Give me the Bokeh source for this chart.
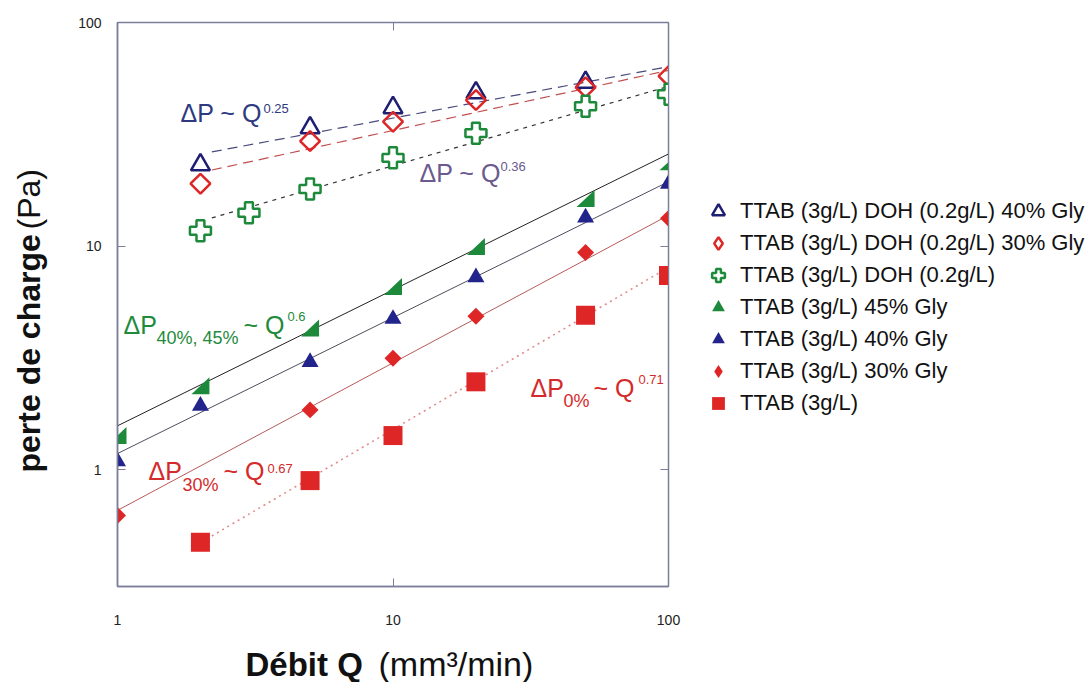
import numpy as np
from bokeh.plotting import figure
from bokeh.layouts import row, column
from bokeh.models import (Label, Legend, LegendItem, FixedTicker, NumeralTickFormatter,
                          LogAxis)
from bokeh.core.enums import CoordinateUnits
from bokeh.embed import file_html
from bokeh.resources import INLINE

# ---------------- data ----------------
q_doh40 = [2, 5, 10, 20, 50]
p_doh40 = [23.1, 33.8, 41.6, 48.5, 54.0]
q_doh30 = [2, 5, 10, 20, 50, 100]
p_doh30 = [19.0, 29.5, 36.0, 45.0, 51.3, 57.5]
q_doh = [2, 3, 5, 10, 20, 50, 100]
p_doh = [11.7, 14.1, 18.0, 24.8, 32.0, 42.2, 47.8]
q_gly45 = [1, 2, 5, 10, 20, 50, 100]
p_gly45 = [1.42, 2.37, 4.3, 6.6, 9.95, 16.3, 23.8]
q_gly40 = [1, 2, 5, 10, 20, 50, 100]
p_gly40 = [1.09, 1.93, 3.03, 4.72, 7.24, 13.4, 19.0]
q_gly30 = [1, 5, 10, 20, 50, 100]
p_gly30 = [0.624, 1.85, 3.15, 4.85, 9.35, 13.3]
q_ttab = [2, 5, 10, 20, 50, 100]
p_ttab = [0.473, 0.893, 1.42, 2.47, 4.9, 7.39]

series_labels = [
    "TTAB (3g/L) DOH (0.2g/L) 40% Gly",
    "TTAB (3g/L) DOH (0.2g/L) 30% Gly",
    "TTAB (3g/L) DOH (0.2g/L)",
    "TTAB (3g/L) 45% Gly",
    "TTAB (3g/L) 40% Gly",
    "TTAB (3g/L) 30% Gly",
    "TTAB (3g/L)",
]

# power-law fits  dP = coef * Q^exp
fit_coef = [22.0, 17.7, 10.1, 1.57, 1.18, 0.657, 0.285]
fit_exp = [0.23, 0.269, 0.355, 0.608, 0.608, 0.66, 0.725]
fit_qmin = [2.2, 2.2, 2.2, 1, 1, 1, 2.2]
fit_qmax = [100, 100, 100, 100, 100, 100, 100]

x_ticks = [1, 10, 100]
y_ticks = [1, 10, 100]

# ---------------- styles ----------------
NAVY = "#1e1e72"
RED = "#de2626"
GREEN = "#1d8a3b"
BLUE = "#23238c"
FRAME = "#7c7f9c"
FONT = "Liberation Sans"
BSHIFT = 0.3   # baseline correction (fraction of font size)

X0, X1, Y0, Y1 = 1, 100, 0.3, 100
W, H = 690, 632
ML, MR, MT, MB = 117, 22, 22, 46
FW, FH = W - ML - MR, H - MT - MB
TOTAL_W, TOTAL_H = 1091, 682

p = figure(width=W, height=H, x_axis_type="log", y_axis_type="log",
           x_range=(X0, X1), y_range=(Y0, Y1), output_backend="svg",
           toolbar_location=None, min_border_left=ML, min_border_right=MR,
           min_border_top=MT, min_border_bottom=MB)
p.background_fill_color = "white"
p.border_fill_color = "white"
p.outline_line_color = FRAME
p.outline_line_width = 1.5
p.grid.visible = False

for ax, ticks, standoff in ((p.xaxis[0], x_ticks, 28), (p.yaxis[0], y_ticks, 16)):
    ax.ticker = FixedTicker(ticks=ticks)
    ax.formatter = NumeralTickFormatter(format="0")
    ax.major_tick_in = 8
    ax.major_tick_out = 0
    ax.minor_tick_line_color = None
    ax.axis_line_color = FRAME
    ax.axis_line_width = 1.5
    ax.major_tick_line_color = FRAME
    ax.major_label_text_font = FONT
    ax.major_label_text_font_size = "14px"
    ax.major_label_text_color = "#222222"
    ax.major_label_standoff = standoff

for side, ticks in (("above", x_ticks), ("right", y_ticks)):
    p.add_layout(LogAxis(ticker=FixedTicker(ticks=ticks), major_label_text_font_size="2px",
                         major_label_text_color=None, major_label_standoff=0,
                         major_tick_in=8, major_tick_out=0, minor_tick_line_color=None,
                         axis_line_color=FRAME, major_tick_line_color=FRAME), side)

# ---------------- fit lines ----------------
fit_styles = [
    dict(line_color="#4a4a7e", line_dash="10 6", line_width=1.2),
    dict(line_color="#c05050", line_dash="10 6", line_width=1.2),
    dict(line_color="#333333", line_dash="4 5", line_width=1.2),
    dict(line_color="#222222", line_width=1.0),
    dict(line_color="#4e4e5e", line_width=1.0),
    dict(line_color="#b85a5a", line_width=1.0),
    dict(line_color="#e08c8c", line_dash="2 4", line_width=1.6),
]
for c, e, a, b, sty in zip(fit_coef, fit_exp, fit_qmin, fit_qmax, fit_styles):
    qq = np.array([a, b], dtype=float)
    p.line(qq, c * qq ** e, **sty)

# ---------------- markers ----------------
open_tri = dict(marker="triangle", size=19, fill_color=None, line_color=NAVY, line_width=2.5)
open_dia = dict(size=14, fill_color=None, line_color=RED, line_width=2.5)
open_plus = dict(marker="plus", size=21, fill_color="white", line_color=GREEN, line_width=2.5)
fill_tri45 = dict(marker="triangle", size=17, fill_color=GREEN, line_color=None)
fill_tri40 = dict(marker="triangle", size=17, fill_color=BLUE, line_color=None)
fill_dia = dict(size=12, fill_color=RED, line_color=None)
fill_sq = dict(marker="square", size=19, fill_color=RED, line_color=None)

p.scatter(q_doh40, p_doh40, **open_tri)
p.scatter(q_doh30, p_doh30, marker="square", angle=np.pi / 4, **open_dia)
p.scatter(q_doh, p_doh, **open_plus)

# right-angled triangle markers (bottom-left, bottom-right, top-right)
x_dec = FW / np.log10(X1 / X0)
y_dec = FH / np.log10(Y1 / Y0)
hx, hy = 9.0 / x_dec, 8.5 / y_dec
xs45 = [[q * 10 ** -hx, q * 10 ** hx, q * 10 ** hx] for q in q_gly45]
ys45 = [[v * 10 ** -hy, v * 10 ** -hy, v * 10 ** hy] for v in p_gly45]
p.patches(xs45, ys45, fill_color=GREEN, line_color=None)

p.scatter(q_gly40, p_gly40, **fill_tri40)
p.scatter(q_gly30, p_gly30, marker="square", angle=np.pi / 4, **fill_dia)
p.scatter(q_ttab, p_ttab, **fill_sq)


# ---------------- text helper ----------------
def lab(fig, x, y, text, size, color, bold=False, angle=0.0, units="screen", place="center"):
    if angle == 0.0:
        y = y + BSHIFT * size
    else:
        x = x - BSHIFT * size
    fig.add_layout(Label(x=x, y=y, x_units=units, y_units=units, text=text,
                         text_font=FONT, text_font_size=f"{size}px", text_color=color,
                         text_font_style="bold" if bold else "normal",
                         text_baseline="alphabetic", text_align="left", angle=angle), place)


C_NAVY_T = "#2e3a80"
C_PURP_T = "#6a5a8e"
C_GREEN_T = "#1f8a3c"
C_RED_T = "#d42a2a"

# power-law annotations (frame-relative screen coordinates, y from frame bottom)
lab(p, 63, 466, "ΔP ~ Q", 25, C_NAVY_T)
lab(p, 146, 474, "0.25", 13, C_NAVY_T)

lab(p, 302, 406, "ΔP ~ Q", 25, C_PURP_T)
lab(p, 383, 416, "0.36", 13, C_PURP_T)

lab(p, 6, 254, "ΔP", 25, C_GREEN_T)
lab(p, 39, 243, "40%, 45%", 18, C_GREEN_T)
lab(p, 126, 254, "~ Q", 25, C_GREEN_T)
lab(p, 170, 266, "0.6", 13, C_GREEN_T)

lab(p, 31, 108, "ΔP", 25, C_RED_T)
lab(p, 65, 96, "30%", 18, C_RED_T)
lab(p, 106, 108, "~ Q", 25, C_RED_T)
lab(p, 150, 114, "0.67", 13, C_RED_T)

lab(p, 413, 191, "ΔP", 25, C_RED_T)
lab(p, 446, 180, "0%", 18, C_RED_T)
lab(p, 476, 191, "~ Q", 25, C_RED_T)
lab(p, 521, 203, "0.71", 13, C_RED_T)

# y-axis title in the left side panel (canvas coordinates)
CU = "canvas" if "canvas" in CoordinateUnits else "screen"
lab(p, 38, 472, "perte de charge", 32, "#111111", bold=True, angle=np.pi / 2, units=CU, place="left")
lab(p, 38, 229, "(Pa)", 32, "#111111", angle=np.pi / 2, units=CU, place="left")

# ---------------- legend figure (frame aligned with the main plot frame) ----------------
lg = figure(width=TOTAL_W - W, height=H, x_range=(0, 1), y_range=(0, 1),
            output_backend="svg", toolbar_location=None, min_border=0,
            x_axis_location=None, y_axis_location=None, outline_line_color=None)
lg.grid.visible = False
lg.background_fill_color = "white"
lg.border_fill_color = "white"
proxies = [
    lg.scatter(q_doh40, p_doh40, visible=False, **open_tri),
    lg.scatter(q_doh30, p_doh30, marker="diamond", visible=False, **open_dia),
    lg.scatter(q_doh, p_doh, visible=False, **open_plus),
    lg.scatter(q_gly45, p_gly45, visible=False, **fill_tri45),
    lg.scatter(q_gly40, p_gly40, visible=False, **fill_tri40),
    lg.scatter(q_gly30, p_gly30, marker="diamond", visible=False, **fill_dia),
    lg.scatter(q_ttab, p_ttab, visible=False, **fill_sq),
]
legend = Legend(items=[LegendItem(label=l, renderers=[r]) for l, r in zip(series_labels, proxies)],
                location=(12, 167), glyph_width=32, glyph_height=32, spacing=0,
                padding=0, margin=0, label_standoff=6, border_line_color=None,
                background_fill_color=None, label_text_font=FONT,
                label_text_font_size="22px", label_text_color="#111111")
lg.add_layout(legend, "center")

# ---------------- x-axis title strip ----------------
st = figure(width=TOTAL_W, height=TOTAL_H - H, x_range=(0, 1), y_range=(0, 1),
            output_backend="svg", toolbar_location=None, min_border=0,
            x_axis_location=None, y_axis_location=None, outline_line_color=None)
st.grid.visible = False
st.background_fill_color = "white"
st.border_fill_color = "white"
lab(st, 245, 8, "Débit Q", 33, "#111111", bold=True)
lab(st, 378, 8, "(mm³/min)", 34, "#111111")

layout = column(row(p, lg, spacing=0), st, spacing=0)
open("out.html", "w").write(file_html(layout, INLINE))
